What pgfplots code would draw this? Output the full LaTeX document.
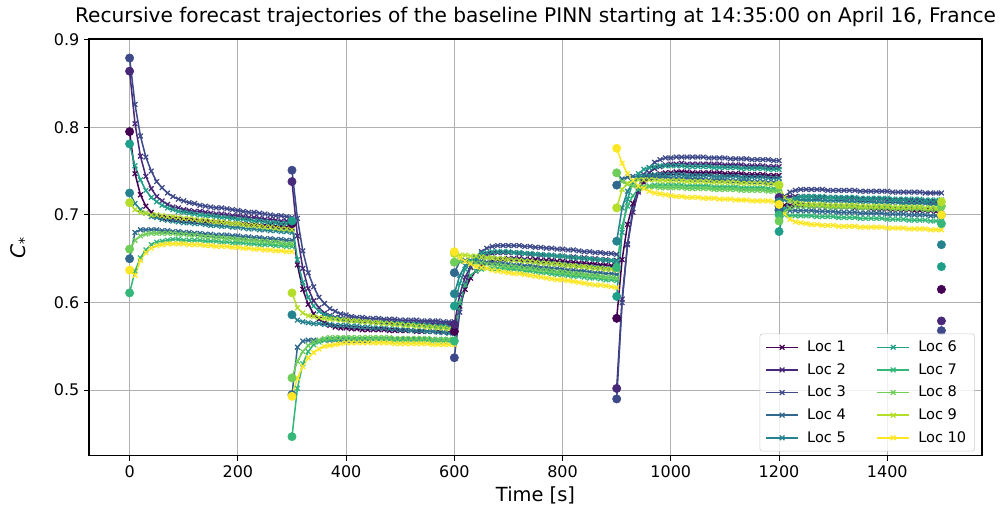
\documentclass[border=0pt]{standalone}
\usepackage{pgfplots}
\pgfplotsset{compat=1.18}
\usepackage{fontspec}
\setmainfont{DejaVu Sans}

\definecolor{c1}{HTML}{440154}
\definecolor{c2}{HTML}{482878}
\definecolor{c3}{HTML}{3E4989}
\definecolor{c4}{HTML}{31688E}
\definecolor{c5}{HTML}{26828E}
\definecolor{c6}{HTML}{1F9E89}
\definecolor{c7}{HTML}{35B779}
\definecolor{c8}{HTML}{6ECE58}
\definecolor{c9}{HTML}{B5DE2B}
\definecolor{c10}{HTML}{FDE725}

\pgfplotsset{
  traj/.style={color=#1, line width=1.1pt, mark=x, mark size=2.4pt, mark options={line width=0.9pt}},
  dot/.style={only marks, mark=*, mark size=3pt, color=#1, forget plot},
}

\begin{document}
\begin{tikzpicture}
\begin{axis}[
  width=643pt, height=300pt, scale only axis,
  xmin=-75, xmax=1575, ymin=0.4253, ymax=0.9007,
  xtick={0,200,...,1400}, ytick={0.5,0.6,0.7,0.8,0.9},
  grid=major, grid style={color=black!31, line width=0.8pt},
  axis line style={line width=0.8pt},
  tick align=outside, tick pos=left, major tick length=3.5pt,
  tick style={black, line width=0.8pt},
  tick label style={font=\fontsize{11.5}{13}\selectfont},
  /pgf/number format/assume math mode=true,
  yticklabel style={/pgf/number format/fixed, /pgf/number format/fixed zerofill, /pgf/number format/precision=1},
  xticklabel style={/pgf/number format/1000 sep={}},
  title={Recursive forecast trajectories of the baseline PINN starting at 14:35:00 on April 16, France},
  title style={font=\fontsize{14.5}{17}\selectfont, yshift=-1pt},
  xlabel={Time [s]}, xlabel style={font=\fontsize{14}{17}\selectfont},
  ylabel={\textit{C}\textsubscript{*}}, ylabel style={font=\fontsize{14.5}{17}\selectfont, yshift=11pt},
  unbounded coords=jump,
  legend columns=5, transpose legend,
  legend cell align=left,
  legend image code/.code={\draw[mark repeat=2,mark phase=2] plot coordinates {(0pt,0pt)(11.5pt,0pt)(23pt,0pt)};},
  legend style={at={(0.992,0.01)}, anchor=south east, draw=black!20, rounded corners=2pt,
    fill=white, fill opacity=0.8, text opacity=1, font=\fontsize{10.5}{12}\selectfont,
    row sep=3pt, inner xsep=4pt, inner ysep=3pt,
    /tikz/every odd column/.append style={column sep=4pt},
    /tikz/every even column/.append style={column sep=20pt}},
]
\coordinate (bl) at (rel axis cs:0,0);
\coordinate (tr) at (rel axis cs:1,1);

% Loc 1
\addplot[traj=c1] coordinates {
(0,0.795)(10,0.747)(20,0.723)(30,0.710)(40,0.703)(50,0.699)(60,0.697)(70,0.696)(80,0.695)(90,0.695)(100,0.694)(110,0.694)(120,0.693)(130,0.693)(140,0.692)(150,0.692)(160,0.692)(170,0.691)(180,0.691)(190,0.690)(200,0.690)(210,0.690)(220,0.689)(230,0.689)(240,0.688)(250,0.688)(260,0.688)(270,0.687)(280,0.687)(290,0.686)(300,0.686)
(300,nan)
(300,0.690)(310,0.643)(320,0.615)(330,0.598)(340,0.587)(350,0.581)(360,0.577)(370,0.574)(380,0.572)(390,0.571)(400,0.571)(410,0.570)(420,0.570)(430,0.569)(440,0.569)(450,0.569)(460,0.569)(470,0.569)(480,0.568)(490,0.568)(500,0.568)(510,0.568)(520,0.568)(530,0.567)(540,0.567)(550,0.567)(560,0.567)(570,0.567)(580,0.566)(590,0.566)(600,0.566)
(600,nan)
(600,0.567)(610,0.596)(620,0.615)(630,0.628)(640,0.636)(650,0.642)(660,0.645)(670,0.647)(680,0.649)(690,0.649)(700,0.650)(710,0.650)(720,0.650)(730,0.649)(740,0.649)(750,0.649)(760,0.648)(770,0.648)(780,0.648)(790,0.647)(800,0.647)(810,0.646)(820,0.646)(830,0.645)(840,0.645)(850,0.644)(860,0.644)(870,0.643)(880,0.643)(890,0.642)(900,0.642)
(900,nan)
(900,0.582)(910,0.649)(920,0.689)(930,0.713)(940,0.728)(950,0.737)(960,0.742)(970,0.745)(980,0.747)(990,0.748)(1000,0.748)(1010,0.749)(1020,0.749)(1030,0.749)(1040,0.748)(1050,0.748)(1060,0.748)(1070,0.748)(1080,0.748)(1090,0.748)(1100,0.747)(1110,0.747)(1120,0.747)(1130,0.747)(1140,0.746)(1150,0.746)(1160,0.746)(1170,0.746)(1180,0.745)(1190,0.745)(1200,0.745)
(1200,nan)
(1200,0.710)(1210,0.711)(1220,0.711)(1230,0.711)(1240,0.711)(1250,0.711)(1260,0.710)(1270,0.710)(1280,0.710)(1290,0.710)(1300,0.709)(1310,0.709)(1320,0.709)(1330,0.709)(1340,0.708)(1350,0.708)(1360,0.708)(1370,0.707)(1380,0.707)(1390,0.707)(1400,0.707)(1410,0.706)(1420,0.706)(1430,0.706)(1440,0.706)(1450,0.705)(1460,0.705)(1470,0.705)(1480,0.705)(1490,0.704)(1500,0.704)
};
\addlegendentry{Loc 1}

% Loc 2
\addplot[traj=c2] coordinates {
(0,0.864)(10,0.804)(20,0.767)(30,0.744)(40,0.730)(50,0.721)(60,0.716)(70,0.712)(80,0.709)(90,0.708)(100,0.706)(110,0.705)(120,0.704)(130,0.704)(140,0.703)(150,0.702)(160,0.701)(170,0.701)(180,0.700)(190,0.699)(200,0.699)(210,0.698)(220,0.697)(230,0.697)(240,0.696)(250,0.695)(260,0.695)(270,0.694)(280,0.693)(290,0.693)(300,0.692)
(300,nan)
(300,0.738)(310,0.676)(320,0.639)(330,0.616)(340,0.602)(350,0.594)(360,0.588)(370,0.585)(380,0.583)(390,0.582)(400,0.581)(410,0.580)(420,0.579)(430,0.579)(440,0.579)(450,0.578)(460,0.578)(470,0.578)(480,0.578)(490,0.578)(500,0.577)(510,0.577)(520,0.577)(530,0.577)(540,0.576)(550,0.576)(560,0.576)(570,0.576)(580,0.575)(590,0.575)(600,0.575)
(600,nan)
(600,0.575)(610,0.609)(620,0.629)(630,0.641)(640,0.648)(650,0.653)(660,0.655)(670,0.656)(680,0.657)(690,0.657)(700,0.657)(710,0.657)(720,0.656)(730,0.656)(740,0.655)(750,0.655)(760,0.654)(770,0.654)(780,0.654)(790,0.653)(800,0.653)(810,0.652)(820,0.652)(830,0.651)(840,0.651)(850,0.650)(860,0.650)(870,0.649)(880,0.649)(890,0.648)(900,0.648)
(900,nan)
(900,0.502)(910,0.604)(920,0.666)(930,0.703)(940,0.726)(950,0.739)(960,0.748)(970,0.753)(980,0.755)(990,0.757)(1000,0.758)(1010,0.758)(1020,0.759)(1030,0.758)(1040,0.758)(1050,0.758)(1060,0.758)(1070,0.758)(1080,0.758)(1090,0.758)(1100,0.757)(1110,0.757)(1120,0.757)(1130,0.757)(1140,0.756)(1150,0.756)(1160,0.756)(1170,0.756)(1180,0.755)(1190,0.755)(1200,0.755)
(1200,nan)
(1200,0.720)(1210,0.721)(1220,0.721)(1230,0.721)(1240,0.721)(1250,0.721)(1260,0.721)(1270,0.720)(1280,0.720)(1290,0.720)(1300,0.720)(1310,0.719)(1320,0.719)(1330,0.719)(1340,0.719)(1350,0.718)(1360,0.718)(1370,0.718)(1380,0.718)(1390,0.718)(1400,0.717)(1410,0.717)(1420,0.717)(1430,0.717)(1440,0.716)(1450,0.716)(1460,0.716)(1470,0.716)(1480,0.715)(1490,0.715)(1500,0.715)
};
\addlegendentry{Loc 2}

% Loc 3
\addplot[traj=c3] coordinates {
(0,0.879)(10,0.826)(20,0.790)(30,0.766)(40,0.750)(50,0.738)(60,0.731)(70,0.725)(80,0.721)(90,0.718)(100,0.716)(110,0.714)(120,0.713)(130,0.711)(140,0.710)(150,0.709)(160,0.708)(170,0.708)(180,0.707)(190,0.706)(200,0.705)(210,0.704)(220,0.703)(230,0.703)(240,0.702)(250,0.701)(260,0.700)(270,0.699)(280,0.699)(290,0.698)(300,0.697)
(300,nan)
(300,0.751)(310,0.696)(320,0.659)(330,0.634)(340,0.618)(350,0.606)(360,0.599)(370,0.593)(380,0.590)(390,0.587)(400,0.586)(410,0.584)(420,0.583)(430,0.583)(440,0.582)(450,0.582)(460,0.582)(470,0.581)(480,0.581)(490,0.581)(500,0.580)(510,0.580)(520,0.580)(530,0.580)(540,0.579)(550,0.579)(560,0.579)(570,0.579)(580,0.578)(590,0.578)(600,0.578)
(600,nan)
(600,0.537)(610,0.589)(620,0.621)(630,0.640)(640,0.652)(650,0.658)(660,0.662)(670,0.664)(680,0.665)(690,0.665)(700,0.665)(710,0.665)(720,0.665)(730,0.664)(740,0.664)(750,0.663)(760,0.663)(770,0.662)(780,0.662)(790,0.661)(800,0.661)(810,0.660)(820,0.660)(830,0.659)(840,0.658)(850,0.658)(860,0.657)(870,0.657)(880,0.656)(890,0.656)(900,0.655)
(900,nan)
(900,0.490)(910,0.600)(920,0.667)(930,0.707)(940,0.731)(950,0.746)(960,0.754)(970,0.760)(980,0.763)(990,0.765)(1000,0.765)(1010,0.766)(1020,0.766)(1030,0.766)(1040,0.766)(1050,0.766)(1060,0.766)(1070,0.765)(1080,0.765)(1090,0.765)(1100,0.765)(1110,0.764)(1120,0.764)(1130,0.764)(1140,0.764)(1150,0.763)(1160,0.763)(1170,0.763)(1180,0.763)(1190,0.762)(1200,0.762)
(1200,nan)
(1200,0.705)(1210,0.721)(1220,0.726)(1230,0.728)(1240,0.729)(1250,0.729)(1260,0.729)(1270,0.729)(1280,0.729)(1290,0.728)(1300,0.728)(1310,0.728)(1320,0.728)(1330,0.728)(1340,0.728)(1350,0.727)(1360,0.727)(1370,0.727)(1380,0.727)(1390,0.727)(1400,0.727)(1410,0.726)(1420,0.726)(1430,0.726)(1440,0.726)(1450,0.726)(1460,0.726)(1470,0.725)(1480,0.725)(1490,0.725)(1500,0.725)
};
\addlegendentry{Loc 3}

% Loc 4
\addplot[traj=c4] coordinates {
(0,0.650)(10,0.680)(20,0.683)(30,0.683)(40,0.683)(50,0.683)(60,0.682)(70,0.682)(80,0.681)(90,0.681)(100,0.680)(110,0.680)(120,0.679)(130,0.679)(140,0.678)(150,0.678)(160,0.677)(170,0.677)(180,0.677)(190,0.676)(200,0.676)(210,0.675)(220,0.675)(230,0.674)(240,0.674)(250,0.673)(260,0.673)(270,0.672)(280,0.672)(290,0.671)(300,0.671)
(300,nan)
(300,0.495)(310,0.549)(320,0.556)(330,0.557)(340,0.557)(350,0.557)(360,0.557)(370,0.557)(380,0.557)(390,0.557)(400,0.557)(410,0.557)(420,0.557)(430,0.557)(440,0.557)(450,0.558)(460,0.558)(470,0.558)(480,0.558)(490,0.558)(500,0.558)(510,0.558)(520,0.558)(530,0.558)(540,0.558)(550,0.558)(560,0.558)(570,0.558)(580,0.558)(590,0.558)(600,0.558)
(600,nan)
(600,0.634)(610,0.647)(620,0.648)(630,0.648)(640,0.648)(650,0.647)(660,0.646)(670,0.646)(680,0.645)(690,0.645)(700,0.644)(710,0.643)(720,0.643)(730,0.642)(740,0.642)(750,0.641)(760,0.640)(770,0.640)(780,0.639)(790,0.639)(800,0.638)(810,0.637)(820,0.637)(830,0.636)(840,0.636)(850,0.635)(860,0.634)(870,0.634)(880,0.633)(890,0.633)(900,0.632)
(900,nan)
(900,0.734)(910,0.741)(920,0.743)(930,0.744)(940,0.744)(950,0.744)(960,0.743)(970,0.743)(980,0.743)(990,0.743)(1000,0.742)(1010,0.742)(1020,0.742)(1030,0.742)(1040,0.741)(1050,0.741)(1060,0.741)(1070,0.740)(1080,0.740)(1090,0.740)(1100,0.740)(1110,0.739)(1120,0.739)(1130,0.739)(1140,0.739)(1150,0.738)(1160,0.738)(1170,0.738)(1180,0.737)(1190,0.737)(1200,0.737)
(1200,nan)
(1200,0.706)(1210,0.706)(1220,0.705)(1230,0.705)(1240,0.705)(1250,0.705)(1260,0.705)(1270,0.704)(1280,0.704)(1290,0.704)(1300,0.704)(1310,0.703)(1320,0.703)(1330,0.703)(1340,0.703)(1350,0.702)(1360,0.702)(1370,0.702)(1380,0.702)(1390,0.702)(1400,0.701)(1410,0.701)(1420,0.701)(1430,0.701)(1440,0.700)(1450,0.700)(1460,0.700)(1470,0.700)(1480,0.699)(1490,0.699)(1500,0.699)
};
\addlegendentry{Loc 4}

% Loc 5
\addplot[traj=c5] coordinates {
(0,0.725)(10,0.713)(20,0.706)(30,0.702)(40,0.698)(50,0.697)(60,0.695)(70,0.694)(80,0.693)(90,0.692)(100,0.691)(110,0.691)(120,0.690)(130,0.690)(140,0.689)(150,0.688)(160,0.688)(170,0.687)(180,0.687)(190,0.686)(200,0.686)(210,0.685)(220,0.684)(230,0.684)(240,0.683)(250,0.683)(260,0.682)(270,0.682)(280,0.681)(290,0.681)(300,0.680)
(300,nan)
(300,0.586)(310,0.580)(320,0.578)(330,0.577)(340,0.576)(350,0.576)(360,0.575)(370,0.575)(380,0.574)(390,0.574)(400,0.574)(410,0.573)(420,0.573)(430,0.572)(440,0.572)(450,0.571)(460,0.571)(470,0.571)(480,0.570)(490,0.570)(500,0.569)(510,0.569)(520,0.568)(530,0.568)(540,0.568)(550,0.567)(560,0.567)(570,0.566)(580,0.566)(590,0.565)(600,0.565)
(600,nan)
(600,0.610)(610,0.631)(620,0.642)(630,0.647)(640,0.650)(650,0.651)(660,0.651)(670,0.651)(680,0.650)(690,0.650)(700,0.649)(710,0.649)(720,0.648)(730,0.648)(740,0.647)(750,0.646)(760,0.646)(770,0.645)(780,0.645)(790,0.644)(800,0.644)(810,0.643)(820,0.642)(830,0.642)(840,0.641)(850,0.641)(860,0.640)(870,0.640)(880,0.639)(890,0.639)(900,0.638)
(900,nan)
(900,0.670)(910,0.708)(920,0.727)(930,0.737)(940,0.742)(950,0.744)(960,0.745)(970,0.746)(980,0.746)(990,0.746)(1000,0.746)(1010,0.746)(1020,0.746)(1030,0.745)(1040,0.745)(1050,0.745)(1060,0.745)(1070,0.745)(1080,0.744)(1090,0.744)(1100,0.744)(1110,0.744)(1120,0.744)(1130,0.743)(1140,0.743)(1150,0.743)(1160,0.743)(1170,0.743)(1180,0.742)(1190,0.742)(1200,0.742)
(1200,nan)
(1200,0.715)(1210,0.717)(1220,0.717)(1230,0.717)(1240,0.717)(1250,0.717)(1260,0.717)(1270,0.717)(1280,0.716)(1290,0.716)(1300,0.716)(1310,0.716)(1320,0.716)(1330,0.715)(1340,0.715)(1350,0.715)(1360,0.715)(1370,0.715)(1380,0.714)(1390,0.714)(1400,0.714)(1410,0.714)(1420,0.714)(1430,0.713)(1440,0.713)(1450,0.713)(1460,0.713)(1470,0.713)(1480,0.712)(1490,0.712)(1500,0.712)
};
\addlegendentry{Loc 5}

% Loc 6
\addplot[traj=c6] coordinates {
(0,0.781)(10,0.756)(20,0.740)(30,0.728)(40,0.720)(50,0.715)(60,0.711)(70,0.708)(80,0.706)(90,0.704)(100,0.703)(110,0.702)(120,0.701)(130,0.700)(140,0.699)(150,0.699)(160,0.698)(170,0.697)(180,0.697)(190,0.696)(200,0.695)(210,0.695)(220,0.694)(230,0.693)(240,0.693)(250,0.692)(260,0.691)(270,0.691)(280,0.690)(290,0.690)(300,0.689)
(300,nan)
(300,0.693)(310,0.649)(320,0.623)(330,0.606)(340,0.596)(350,0.590)(360,0.586)(370,0.584)(380,0.582)(390,0.581)(400,0.580)(410,0.579)(420,0.579)(430,0.578)(440,0.578)(450,0.577)(460,0.577)(470,0.577)(480,0.576)(490,0.576)(500,0.576)(510,0.575)(520,0.575)(530,0.575)(540,0.574)(550,0.574)(560,0.573)(570,0.573)(580,0.573)(590,0.572)(600,0.572)
(600,nan)
(600,0.596)(610,0.622)(620,0.638)(630,0.647)(640,0.652)(650,0.656)(660,0.657)(670,0.658)(680,0.658)(690,0.658)(700,0.658)(710,0.657)(720,0.657)(730,0.656)(740,0.656)(750,0.655)(760,0.655)(770,0.654)(780,0.654)(790,0.653)(800,0.653)(810,0.652)(820,0.651)(830,0.651)(840,0.650)(850,0.650)(860,0.649)(870,0.649)(880,0.648)(890,0.648)(900,0.647)
(900,nan)
(900,0.607)(910,0.680)(920,0.718)(930,0.737)(940,0.747)(950,0.752)(960,0.754)(970,0.755)(980,0.756)(990,0.756)(1000,0.756)(1010,0.756)(1020,0.756)(1030,0.755)(1040,0.755)(1050,0.755)(1060,0.755)(1070,0.755)(1080,0.754)(1090,0.754)(1100,0.754)(1110,0.754)(1120,0.754)(1130,0.753)(1140,0.753)(1150,0.753)(1160,0.753)(1170,0.753)(1180,0.752)(1190,0.752)(1200,0.752)
(1200,nan)
(1200,0.681)(1210,0.707)(1220,0.716)(1230,0.719)(1240,0.721)(1250,0.721)(1260,0.721)(1270,0.721)(1280,0.721)(1290,0.720)(1300,0.720)(1310,0.720)(1320,0.720)(1330,0.720)(1340,0.720)(1350,0.719)(1360,0.719)(1370,0.719)(1380,0.719)(1390,0.719)(1400,0.719)(1410,0.718)(1420,0.718)(1430,0.718)(1440,0.718)(1450,0.718)(1460,0.718)(1470,0.717)(1480,0.717)(1490,0.717)(1500,0.717)
};
\addlegendentry{Loc 6}

% Loc 7
\addplot[traj=c7] coordinates {
(0,0.611)(10,0.636)(20,0.651)(30,0.660)(40,0.666)(50,0.669)(60,0.670)(70,0.671)(80,0.672)(90,0.672)(100,0.671)(110,0.671)(120,0.671)(130,0.671)(140,0.670)(150,0.670)(160,0.670)(170,0.669)(180,0.669)(190,0.668)(200,0.668)(210,0.668)(220,0.667)(230,0.667)(240,0.666)(250,0.666)(260,0.666)(270,0.665)(280,0.665)(290,0.664)(300,0.664)
(300,nan)
(300,0.447)(310,0.502)(320,0.530)(330,0.544)(340,0.552)(350,0.555)(360,0.557)(370,0.558)(380,0.558)(390,0.559)(400,0.559)(410,0.558)(420,0.558)(430,0.558)(440,0.558)(450,0.558)(460,0.558)(470,0.558)(480,0.558)(490,0.557)(500,0.557)(510,0.557)(520,0.557)(530,0.557)(540,0.557)(550,0.557)(560,0.556)(570,0.556)(580,0.556)(590,0.556)(600,0.556)
(600,nan)
(600,0.556)(610,0.599)(620,0.620)(630,0.631)(640,0.636)(650,0.638)(660,0.639)(670,0.639)(680,0.639)(690,0.639)(700,0.638)(710,0.638)(720,0.637)(730,0.636)(740,0.636)(750,0.635)(760,0.634)(770,0.634)(780,0.633)(790,0.632)(800,0.632)(810,0.631)(820,0.630)(830,0.630)(840,0.629)(850,0.628)(860,0.628)(870,0.627)(880,0.626)(890,0.626)(900,0.625)
(900,nan)
(900,0.640)(910,0.687)(920,0.710)(930,0.722)(940,0.729)(950,0.731)(960,0.733)(970,0.734)(980,0.734)(990,0.734)(1000,0.734)(1010,0.734)(1020,0.734)(1030,0.733)(1040,0.733)(1050,0.733)(1060,0.733)(1070,0.733)(1080,0.732)(1090,0.732)(1100,0.732)(1110,0.732)(1120,0.732)(1130,0.731)(1140,0.731)(1150,0.731)(1160,0.731)(1170,0.731)(1180,0.730)(1190,0.730)(1200,0.730)
(1200,nan)
(1200,0.700)(1210,0.700)(1220,0.699)(1230,0.699)(1240,0.699)(1250,0.699)(1260,0.699)(1270,0.698)(1280,0.698)(1290,0.698)(1300,0.698)(1310,0.697)(1320,0.697)(1330,0.697)(1340,0.697)(1350,0.696)(1360,0.696)(1370,0.696)(1380,0.696)(1390,0.696)(1400,0.695)(1410,0.695)(1420,0.695)(1430,0.695)(1440,0.694)(1450,0.694)(1460,0.694)(1470,0.694)(1480,0.693)(1490,0.693)(1500,0.693)
};
\addlegendentry{Loc 7}

% Loc 8
\addplot[traj=c8] coordinates {
(0,0.661)(10,0.671)(20,0.676)(30,0.678)(40,0.679)(50,0.679)(60,0.679)(70,0.679)(80,0.679)(90,0.678)(100,0.678)(110,0.677)(120,0.677)(130,0.676)(140,0.675)(150,0.675)(160,0.674)(170,0.674)(180,0.673)(190,0.673)(200,0.672)(210,0.672)(220,0.671)(230,0.671)(240,0.670)(250,0.670)(260,0.669)(270,0.669)(280,0.668)(290,0.667)(300,0.667)
(300,nan)
(300,0.514)(310,0.533)(320,0.544)(330,0.551)(340,0.555)(350,0.557)(360,0.559)(370,0.560)(380,0.560)(390,0.560)(400,0.560)(410,0.560)(420,0.560)(430,0.560)(440,0.560)(450,0.560)(460,0.560)(470,0.560)(480,0.560)(490,0.559)(500,0.559)(510,0.559)(520,0.559)(530,0.559)(540,0.559)(550,0.559)(560,0.558)(570,0.558)(580,0.558)(590,0.558)(600,0.558)
(600,nan)
(600,0.646)(610,0.647)(620,0.647)(630,0.646)(640,0.645)(650,0.645)(660,0.644)(670,0.643)(680,0.643)(690,0.642)(700,0.641)(710,0.641)(720,0.640)(730,0.639)(740,0.639)(750,0.638)(760,0.637)(770,0.637)(780,0.636)(790,0.635)(800,0.635)(810,0.634)(820,0.633)(830,0.633)(840,0.632)(850,0.631)(860,0.631)(870,0.630)(880,0.629)(890,0.629)(900,0.628)
(900,nan)
(900,0.748)(910,0.738)(920,0.735)(930,0.733)(940,0.732)(950,0.732)(960,0.732)(970,0.732)(980,0.731)(990,0.731)(1000,0.731)(1010,0.731)(1020,0.731)(1030,0.730)(1040,0.730)(1050,0.730)(1060,0.730)(1070,0.730)(1080,0.729)(1090,0.729)(1100,0.729)(1110,0.729)(1120,0.729)(1130,0.728)(1140,0.728)(1150,0.728)(1160,0.728)(1170,0.728)(1180,0.727)(1190,0.727)(1200,0.727)
(1200,nan)
(1200,0.693)(1210,0.704)(1220,0.708)(1230,0.710)(1240,0.710)(1250,0.710)(1260,0.710)(1270,0.710)(1280,0.710)(1290,0.709)(1300,0.709)(1310,0.709)(1320,0.709)(1330,0.709)(1340,0.709)(1350,0.708)(1360,0.708)(1370,0.708)(1380,0.708)(1390,0.708)(1400,0.708)(1410,0.707)(1420,0.707)(1430,0.707)(1440,0.707)(1450,0.707)(1460,0.707)(1470,0.706)(1480,0.706)(1490,0.706)(1500,0.706)
};
\addlegendentry{Loc 8}

% Loc 9
\addplot[traj=c9] coordinates {
(0,0.714)(10,0.706)(20,0.703)(30,0.702)(40,0.700)(50,0.700)(60,0.699)(70,0.698)(80,0.698)(90,0.697)(100,0.696)(110,0.696)(120,0.695)(130,0.694)(140,0.694)(150,0.693)(160,0.692)(170,0.692)(180,0.691)(190,0.690)(200,0.690)(210,0.689)(220,0.688)(230,0.688)(240,0.687)(250,0.686)(260,0.686)(270,0.685)(280,0.684)(290,0.684)(300,0.683)
(300,nan)
(300,0.611)(310,0.594)(320,0.588)(330,0.585)(340,0.584)(350,0.583)(360,0.582)(370,0.581)(380,0.581)(390,0.580)(400,0.580)(410,0.579)(420,0.579)(430,0.578)(440,0.578)(450,0.577)(460,0.577)(470,0.576)(480,0.576)(490,0.575)(500,0.575)(510,0.574)(520,0.574)(530,0.573)(540,0.573)(550,0.572)(560,0.572)(570,0.571)(580,0.571)(590,0.570)(600,0.570)
(600,nan)
(600,0.656)(610,0.654)(620,0.654)(630,0.653)(640,0.653)(650,0.652)(660,0.651)(670,0.651)(680,0.650)(690,0.650)(700,0.649)(710,0.648)(720,0.648)(730,0.647)(740,0.647)(750,0.646)(760,0.645)(770,0.645)(780,0.644)(790,0.644)(800,0.643)(810,0.642)(820,0.642)(830,0.641)(840,0.641)(850,0.640)(860,0.639)(870,0.639)(880,0.638)(890,0.638)(900,0.637)
(900,nan)
(900,0.708)(910,0.729)(920,0.736)(930,0.739)(940,0.740)(950,0.740)(960,0.740)(970,0.740)(980,0.739)(990,0.739)(1000,0.739)(1010,0.739)(1020,0.739)(1030,0.738)(1040,0.738)(1050,0.738)(1060,0.738)(1070,0.738)(1080,0.737)(1090,0.737)(1100,0.737)(1110,0.737)(1120,0.737)(1130,0.736)(1140,0.736)(1150,0.736)(1160,0.736)(1170,0.736)(1180,0.735)(1190,0.735)(1200,0.735)
(1200,nan)
(1200,0.734)(1210,0.720)(1220,0.716)(1230,0.714)(1240,0.713)(1250,0.712)(1260,0.712)(1270,0.712)(1280,0.712)(1290,0.711)(1300,0.711)(1310,0.711)(1320,0.711)(1330,0.711)(1340,0.711)(1350,0.710)(1360,0.710)(1370,0.710)(1380,0.710)(1390,0.710)(1400,0.710)(1410,0.709)(1420,0.709)(1430,0.709)(1440,0.709)(1450,0.709)(1460,0.709)(1470,0.708)(1480,0.708)(1490,0.708)(1500,0.708)
};
\addlegendentry{Loc 9}

% Loc 10
\addplot[traj=c10] coordinates {
(0,0.637)(10,0.631)(20,0.648)(30,0.657)(40,0.662)(50,0.665)(60,0.666)(70,0.667)(80,0.667)(90,0.667)(100,0.667)(110,0.666)(120,0.666)(130,0.666)(140,0.665)(150,0.665)(160,0.664)(170,0.664)(180,0.664)(190,0.663)(200,0.663)(210,0.662)(220,0.662)(230,0.661)(240,0.661)(250,0.660)(260,0.660)(270,0.659)(280,0.659)(290,0.658)(300,0.658)
(300,nan)
(300,0.493)(310,0.514)(320,0.527)(330,0.537)(340,0.543)(350,0.547)(360,0.550)(370,0.551)(380,0.552)(390,0.553)(400,0.554)(410,0.554)(420,0.554)(430,0.554)(440,0.554)(450,0.554)(460,0.554)(470,0.554)(480,0.554)(490,0.553)(500,0.553)(510,0.553)(520,0.553)(530,0.553)(540,0.553)(550,0.553)(560,0.552)(570,0.552)(580,0.552)(590,0.552)(600,0.552)
(600,nan)
(600,0.658)(610,0.651)(620,0.647)(630,0.644)(640,0.641)(650,0.640)(660,0.639)(670,0.637)(680,0.636)(690,0.635)(700,0.634)(710,0.633)(720,0.633)(730,0.632)(740,0.631)(750,0.630)(760,0.629)(770,0.628)(780,0.627)(790,0.626)(800,0.626)(810,0.625)(820,0.624)(830,0.623)(840,0.622)(850,0.621)(860,0.620)(870,0.620)(880,0.619)(890,0.618)(900,0.617)
(900,nan)
(900,0.776)(910,0.759)(920,0.747)(930,0.739)(940,0.733)(950,0.730)(960,0.727)(970,0.725)(980,0.724)(990,0.723)(1000,0.722)(1010,0.721)(1020,0.721)(1030,0.720)(1040,0.720)(1050,0.720)(1060,0.719)(1070,0.719)(1080,0.719)(1090,0.718)(1100,0.718)(1110,0.718)(1120,0.717)(1130,0.717)(1140,0.717)(1150,0.716)(1160,0.716)(1170,0.716)(1180,0.716)(1190,0.715)(1200,0.715)
(1200,nan)
(1200,0.712)(1210,0.701)(1220,0.695)(1230,0.692)(1240,0.691)(1250,0.690)(1260,0.689)(1270,0.689)(1280,0.688)(1290,0.688)(1300,0.688)(1310,0.687)(1320,0.687)(1330,0.687)(1340,0.687)(1350,0.686)(1360,0.686)(1370,0.686)(1380,0.686)(1390,0.686)(1400,0.685)(1410,0.685)(1420,0.685)(1430,0.685)(1440,0.684)(1450,0.684)(1460,0.684)(1470,0.684)(1480,0.683)(1490,0.683)(1500,0.683)
};
\addlegendentry{Loc 10}

% initial states at the start of each window
\addplot[dot=c1] coordinates {(0,0.795)(300,0.690)(600,0.567)(900,0.582)(1200,0.710)(1500,0.615)};
\addplot[dot=c2] coordinates {(0,0.864)(300,0.738)(600,0.575)(900,0.502)(1200,0.720)(1500,0.579)};
\addplot[dot=c3] coordinates {(0,0.879)(300,0.751)(600,0.537)(900,0.490)(1200,0.705)(1500,0.568)};
\addplot[dot=c4] coordinates {(0,0.650)(300,0.495)(600,0.634)(900,0.734)(1200,0.706)(1500,0.700)};
\addplot[dot=c5] coordinates {(0,0.725)(300,0.586)(600,0.610)(900,0.670)(1200,0.715)(1500,0.666)};
\addplot[dot=c6] coordinates {(0,0.781)(300,0.693)(600,0.596)(900,0.607)(1200,0.681)(1500,0.641)};
\addplot[dot=c7] coordinates {(0,0.611)(300,0.447)(600,0.556)(900,0.640)(1200,0.700)(1500,0.690)};
\addplot[dot=c8] coordinates {(0,0.661)(300,0.514)(600,0.646)(900,0.748)(1200,0.693)(1500,0.710)};
\addplot[dot=c9] coordinates {(0,0.714)(300,0.611)(600,0.656)(900,0.708)(1200,0.734)(1500,0.715)};
\addplot[dot=c10] coordinates {(0,0.637)(300,0.493)(600,0.658)(900,0.776)(1200,0.712)(1500,0.700)};
\end{axis}
\pgfresetboundingbox
\path ([shift={(-64.1pt,-50.4pt)}]bl) rectangle ([shift={(14.4pt,28.1pt)}]tr);
\end{tikzpicture}
\end{document}
